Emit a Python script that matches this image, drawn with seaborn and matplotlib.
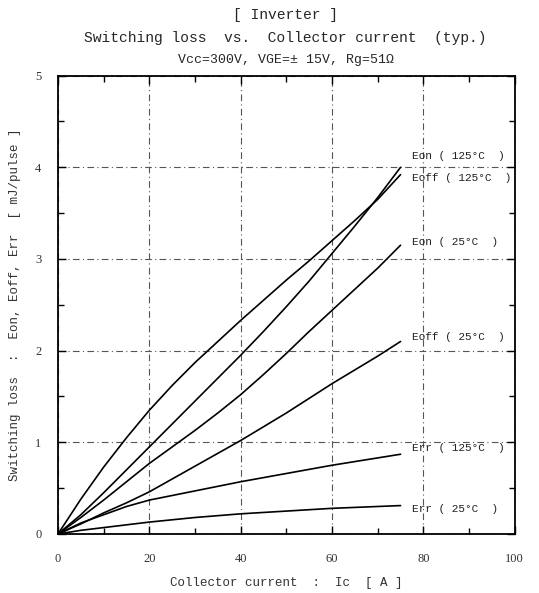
import matplotlib
matplotlib.use("Agg")
import matplotlib.pyplot as plt
import seaborn as sns
import pandas as pd
from matplotlib.ticker import MultipleLocator

sns.set_theme(style="white")
plt.rcParams['font.family'] = ['Liberation Mono', 'DejaVu Sans']

# ---- data ----
ic = [0, 5, 10, 15, 20, 25, 30, 35, 40, 45, 50, 55, 60, 65, 70, 75]
eon_125 = [0, 0.21, 0.45, 0.70, 0.95, 1.20, 1.45, 1.70, 1.95, 2.21, 2.48,
           2.76, 3.06, 3.36, 3.67, 4.00]
eoff_125 = [0, 0.38, 0.73, 1.05, 1.35, 1.62, 1.87, 2.10, 2.33, 2.55, 2.77,
            2.98, 3.20, 3.42, 3.65, 3.92]
eon_25 = [0, 0.18, 0.37, 0.57, 0.77, 0.95, 1.13, 1.32, 1.52, 1.74, 1.97,
          2.21, 2.44, 2.67, 2.90, 3.15]
eoff_25 = [0, 0.11, 0.23, 0.34, 0.46, 0.60, 0.74, 0.88, 1.02, 1.17, 1.32,
           1.48, 1.64, 1.79, 1.94, 2.10]
err_125 = [0, 0.12, 0.21, 0.30, 0.37, 0.42, 0.47, 0.52, 0.57, 0.615, 0.66,
           0.705, 0.75, 0.79, 0.83, 0.87]
err_25 = [0, 0.04, 0.07, 0.10, 0.13, 0.155, 0.18, 0.20, 0.22, 0.235, 0.25,
          0.265, 0.28, 0.29, 0.30, 0.31]

series_names = ["Eon ( 125°C  )", "Eoff ( 125°C  )", "Eon ( 25°C  )",
                "Eoff ( 25°C  )", "Err ( 125°C  )", "Err ( 25°C  )"]
series_values = [eon_125, eoff_125, eon_25, eoff_25, err_125, err_25]
label_y = [4.12, 3.88, 3.19, 2.15, 0.94, 0.27]

x_ticks = [0, 20, 40, 60, 80, 100]
y_ticks = [0, 1, 2, 3, 4, 5]

rows = []
for name, vals in zip(series_names, series_values):
    for x, y in zip(ic, vals):
        rows.append({"Ic": x, "E": y, "series": name})
df = pd.DataFrame(rows)

fig = plt.figure(figsize=(5.39, 5.93), dpi=100)
ax = fig.add_axes([0.1076, 0.0995, 0.8474, 0.773])

sns.lineplot(data=df, x="Ic", y="E", hue="series", hue_order=series_names,
             palette=["black"] * len(series_names), linewidth=1.2,
             legend=False, ax=ax, estimator=None, sort=False)

for name, ly in zip(series_names, label_y):
    ax.text(77.5, ly, name, fontsize=8, va="center", ha="left", color="#222222")

ax.set_xlim(0, 100)
ax.set_ylim(0, 5)
ax.set_xticks(x_ticks)
ax.set_yticks(y_ticks)
ax.xaxis.set_minor_locator(MultipleLocator(10))
ax.yaxis.set_minor_locator(MultipleLocator(0.5))
ax.tick_params(which="both", direction="in", top=True, right=True,
               bottom=True, left=True, labelsize=9, colors="black")
ax.tick_params(which="major", length=6, width=1)
ax.tick_params(which="minor", length=4, width=1)
ax.tick_params(axis="x", which="major", pad=14)
ax.tick_params(axis="y", which="major", pad=12)
for lab in ax.get_xticklabels() + ax.get_yticklabels():
    lab.set_family("Liberation Serif")
    lab.set_color("#333333")

ax.grid(True, which="major", color="#555555", linestyle=(0, (6, 3, 1, 3)),
        linewidth=0.8)
for s in ax.spines.values():
    s.set_color("black")
    s.set_linewidth(1.3)

ax.set_xlabel("Collector current  :  Ic  [ A ]", fontsize=9, color="#333333",
              labelpad=8)
ax.set_ylabel("Switching loss  :  Eon, Eoff, Err  [ mJ/pulse ]", fontsize=9,
              color="#333333", labelpad=10)

fig.text(0.53, 0.974, "[ Inverter ]", ha="center", va="center", fontsize=10.5)
fig.text(0.53, 0.936, "Switching loss  vs.  Collector current  (typ.)",
         ha="center", va="center", fontsize=10.5)
fig.text(0.53, 0.899, "Vcc=300V, VGE=± 15V, Rg=51Ω", ha="center",
         va="center", fontsize=9.5)

fig.savefig("out.png", dpi=100, facecolor="white")
